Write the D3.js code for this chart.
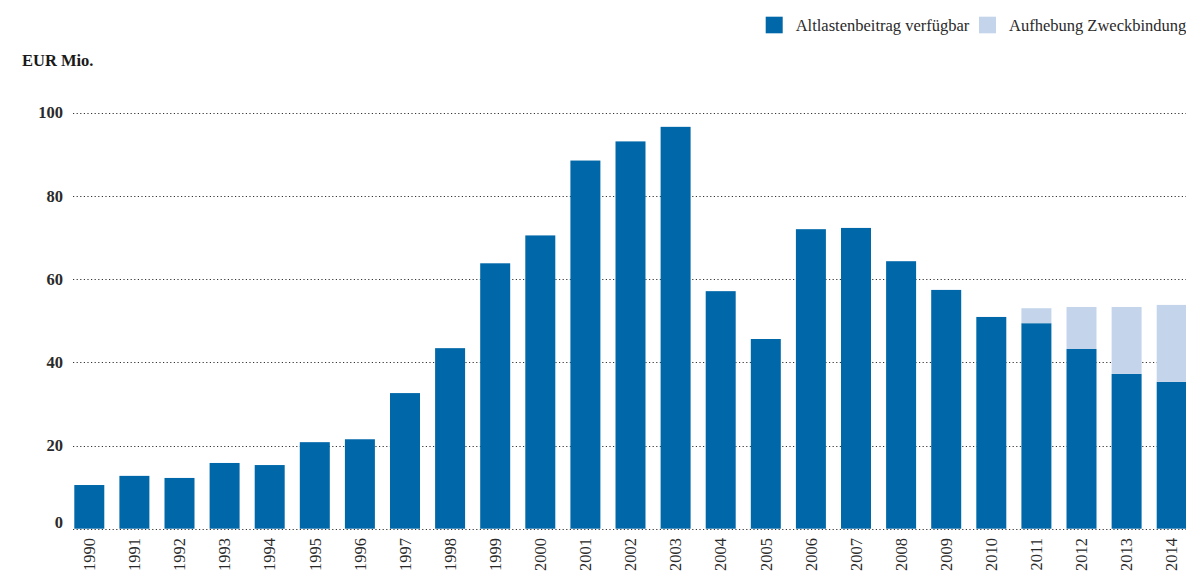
<!DOCTYPE html>
<html>
<head>
<meta charset="utf-8">
<script src="https://cdn.jsdelivr.net/npm/d3@7"></script>
<style>
  html, body { margin: 0; padding: 0; background: #fff; }
  svg { display: block; font-family: "Liberation Serif", "DejaVu Serif", serif; }
</style>
</head>
<body>
<svg id="chart" width="1186" height="574"></svg>
<script>
const years = ["1990","1991","1992","1993","1994","1995","1996","1997","1998","1999","2000","2001","2002","2003","2004","2005","2006","2007","2008","2009","2010","2011","2012","2013","2014"];
const verfuegbar = [10.5,12.7,12.2,15.8,15.3,20.8,21.5,32.6,43.4,63.8,70.5,88.5,93.1,96.6,57.1,45.6,72.0,72.3,64.3,57.4,50.9,49.4,43.2,37.2,35.3];
const aufhebung = [0,0,0,0,0,0,0,0,0,0,0,0,0,0,0,0,0,0,0,0,0,3.6,10.1,16.1,18.5];
const yTicks = [0,20,40,60,80,100];
const seriesNames = ["Altlastenbeitrag verfügbar","Aufhebung Zweckbindung"];
const colors = ["#0068a9","#c4d5eb"];
const unitLabel = "EUR Mio.";

const svg = d3.select("#chart");
const x = d3.scaleBand().domain(years).range([74.3, 1186.7]).paddingInner(0.335).paddingOuter(0);
const y = d3.scaleLinear().domain([0,100]).range([528.7, 112.7]);

// gridlines
const grid = svg.append("g");
grid.selectAll("line").data(yTicks).join("line")
  .attr("x1", 73).attr("x2", 1186)
  .attr("y1", d => Math.round(y(d)) + 0.5).attr("y2", d => Math.round(y(d)) + 0.5)
  .attr("stroke", "#333").attr("stroke-width", 1).attr("stroke-dasharray", "1.2,2.4");

// y labels
const yAxis = d3.axisLeft(y).tickValues(yTicks).tickSize(0).tickPadding(0).tickFormat(d3.format("d"));
const gy = svg.append("g").attr("transform", "translate(63,0)").call(yAxis);
gy.select(".domain").remove();
gy.selectAll("text")
  .attr("font-family", "Liberation Serif, serif")
  .attr("font-size", 16.5).attr("font-weight", "bold").attr("fill", "#2a2a2a")
  .attr("dy", d => d === 0 ? "-0.05em" : "0.32em");

// stacked bars
const stackData = years.map((yr, i) => ({year: yr, a: verfuegbar[i], b: aufhebung[i]}));
const stack = d3.stack().keys(["a","b"])(stackData);
svg.append("g").selectAll("g").data(stack).join("g")
  .attr("fill", (d, i) => colors[i])
  .selectAll("rect").data(d => d.filter(p => p[1] - p[0] > 0)).join("rect")
  .attr("x", d => x(d.data.year))
  .attr("width", x.bandwidth())
  .attr("y", d => y(d[1]))
  .attr("height", d => y(d[0]) - y(d[1]));

// x labels
const xAxis = d3.axisBottom(x).tickSize(0).tickPadding(0);
const gx = svg.append("g").attr("transform", "translate(0,538)").call(xAxis);
gx.select(".domain").remove();
gx.selectAll("text")
  .attr("font-family", "Liberation Serif, serif")
  .attr("font-size", 16.5).attr("fill", "#2a2a2a")
  .attr("transform", "rotate(-90)")
  .attr("text-anchor", "end")
  .attr("x", 0).attr("y", 0).attr("dy", "0.35em");

// unit label
svg.append("text").attr("x", 22).attr("y", 66)
  .attr("font-size", 16.5).attr("font-weight", "bold").attr("fill", "#1a1a1a")
  .text(unitLabel);

// legend
const legendX = [765.7, 979];
const leg = svg.append("g");
seriesNames.forEach((name, i) => {
  leg.append("rect").attr("x", legendX[i]).attr("y", 16.7).attr("width", 17).attr("height", 16.6).attr("fill", colors[i]);
  leg.append("text").attr("x", legendX[i] + 30).attr("y", 31)
    .attr("font-size", 16.5).attr("fill", "#2a2a2a").text(name);
});
</script>
</body>
</html>
